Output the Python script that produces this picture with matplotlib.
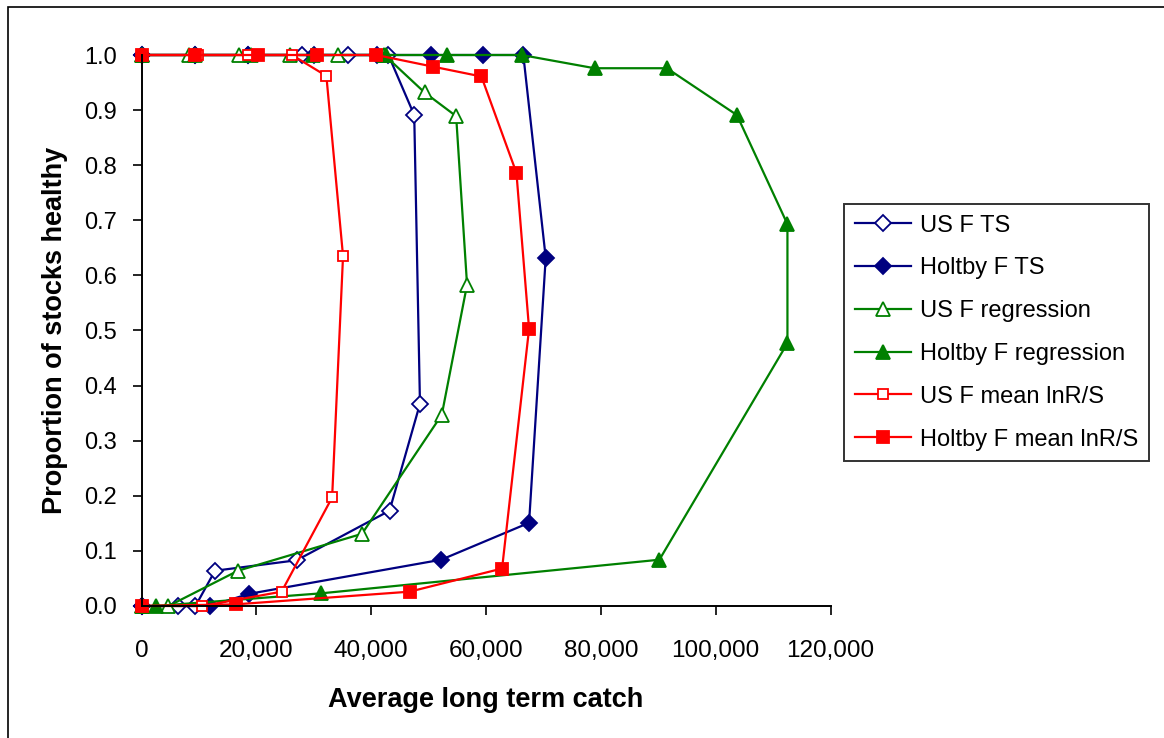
import matplotlib
matplotlib.use("Agg")
import matplotlib.pyplot as plt
from matplotlib.patches import Rectangle
from matplotlib.ticker import FuncFormatter, MultipleLocator

plt.rcParams['font.family'] = ['Liberation Sans', 'DejaVu Sans']

# Average long term catch (x) and proportion of stocks healthy (y)
us_ts_x = [0, 9400, 18600, 27900, 36000, 43000, 47500, 48500, 43200, 27000, 12800, 9400, 6400, 0]
us_ts_y = [1.0, 1.0, 1.0, 1.0, 1.0, 1.0, 0.891, 0.367, 0.173, 0.083, 0.064, 0.0, 0.0, 0.0]

holtby_ts_x = [0, 9400, 18600, 30000, 41000, 50400, 59500, 66500, 70400, 67500, 52200, 18700, 11900, 0]
holtby_ts_y = [1.0, 1.0, 1.0, 1.0, 1.0, 1.0, 1.0, 1.0, 0.632, 0.151, 0.084, 0.022, 0.0, 0.0]

us_reg_x = [0, 8200, 17000, 25900, 34300, 42300, 49300, 54800, 56700, 52300, 38400, 16800, 4700, 0]
us_reg_y = [1.0, 1.0, 1.0, 1.0, 1.0, 1.0, 0.932, 0.889, 0.583, 0.347, 0.131, 0.064, 0.0, 0.0]

holtby_reg_x = [0, 9300, 19000, 29900, 42500, 53200, 66200, 78900, 91500, 103700, 112500, 112500, 90200, 31300, 2500, 0]
holtby_reg_y = [1.0, 1.0, 1.0, 1.0, 1.0, 1.0, 1.0, 0.976, 0.976, 0.891, 0.693, 0.477, 0.084, 0.023, 0.0, 0.0]

us_mean_x = [0, 9800, 18600, 26200, 32200, 35100, 33200, 24400, 10600, 0]
us_mean_y = [1.0, 1.0, 1.0, 1.0, 0.962, 0.635, 0.197, 0.026, 0.0, 0.0]

holtby_mean_x = [0, 9300, 20300, 30500, 40900, 50700, 59200, 65300, 67500, 62800, 46700, 16400, 0]
holtby_mean_y = [1.0, 1.0, 1.0, 1.0, 1.0, 0.979, 0.961, 0.786, 0.503, 0.068, 0.026, 0.003, 0.0]

labels = ["US F TS", "Holtby F TS", "US F regression", "Holtby F regression",
          "US F mean lnR/S", "Holtby F mean lnR/S"]

navy = '#000080'
green = '#008000'
red = '#ff0000'

fig = plt.figure(figsize=(11.64, 7.38), dpi=100)
ax = fig.add_axes([141.5/1164, 132/738, 689/1164, 551/738])

series = [
    (us_ts_x, us_ts_y, navy, 'D', 'white', 8.6, labels[0]),
    (holtby_ts_x, holtby_ts_y, navy, 'D', navy, 8.0, labels[1]),
    (us_reg_x, us_reg_y, green, '^', 'white', 10, labels[2]),
    (holtby_reg_x, holtby_reg_y, green, '^', green, 10.5, labels[3]),
    (us_mean_x, us_mean_y, red, 's', 'white', 7.6, labels[4]),
    (holtby_mean_x, holtby_mean_y, red, 's', red, 8.5, labels[5]),
]
for x, y, c, m, fc, ms, lab in series:
    ax.plot(x, y, color=c, lw=1.6, marker=m, markersize=ms,
            markerfacecolor=fc, markeredgecolor=c, markeredgewidth=1.3,
            label=lab, clip_on=False)

ax.set_xlim(0, 120000)
ax.set_ylim(0, 1.0)
ax.xaxis.set_major_locator(MultipleLocator(20000))
ax.yaxis.set_major_locator(MultipleLocator(0.1))
ax.xaxis.set_major_formatter(FuncFormatter(lambda v, p: "{:,.0f}".format(v)))
ax.yaxis.set_major_formatter(FuncFormatter(lambda v, p: "{:.1f}".format(v)))
ax.tick_params(axis='x', direction='out', length=6.5, width=1.2, pad=18, labelsize=17.5)
ax.tick_params(axis='y', direction='out', length=6.5, width=1.2, pad=11, labelsize=17)
for s in ['top', 'right']:
    ax.spines[s].set_visible(False)
for s in ['left', 'bottom']:
    ax.spines[s].set_linewidth(1.4)

ax.set_xlabel("Average long term catch", fontsize=19.5, fontweight='bold', labelpad=18)
ax.set_ylabel("Proportion of stocks healthy", fontsize=19.5, fontweight='bold', labelpad=12)

leg = ax.legend(loc='upper left', bbox_to_anchor=(844/1164, 1 - 204/738),
                bbox_transform=fig.transFigure, fontsize=17, frameon=True,
                fancybox=False, edgecolor='black', handlelength=2.4,
                labelspacing=0.88, borderpad=0.45, handletextpad=0.37,
                borderaxespad=0)
leg.get_frame().set_linewidth(1.4)

# outer chart border (only left and top edges are inside the image)
fig.add_artist(Rectangle((8/1164, -0.1), 1.2, 1 - 7/738 + 0.1, transform=fig.transFigure,
                         fill=False, edgecolor='black', lw=1.2, clip_on=False))

fig.savefig("out.png", dpi=100)
